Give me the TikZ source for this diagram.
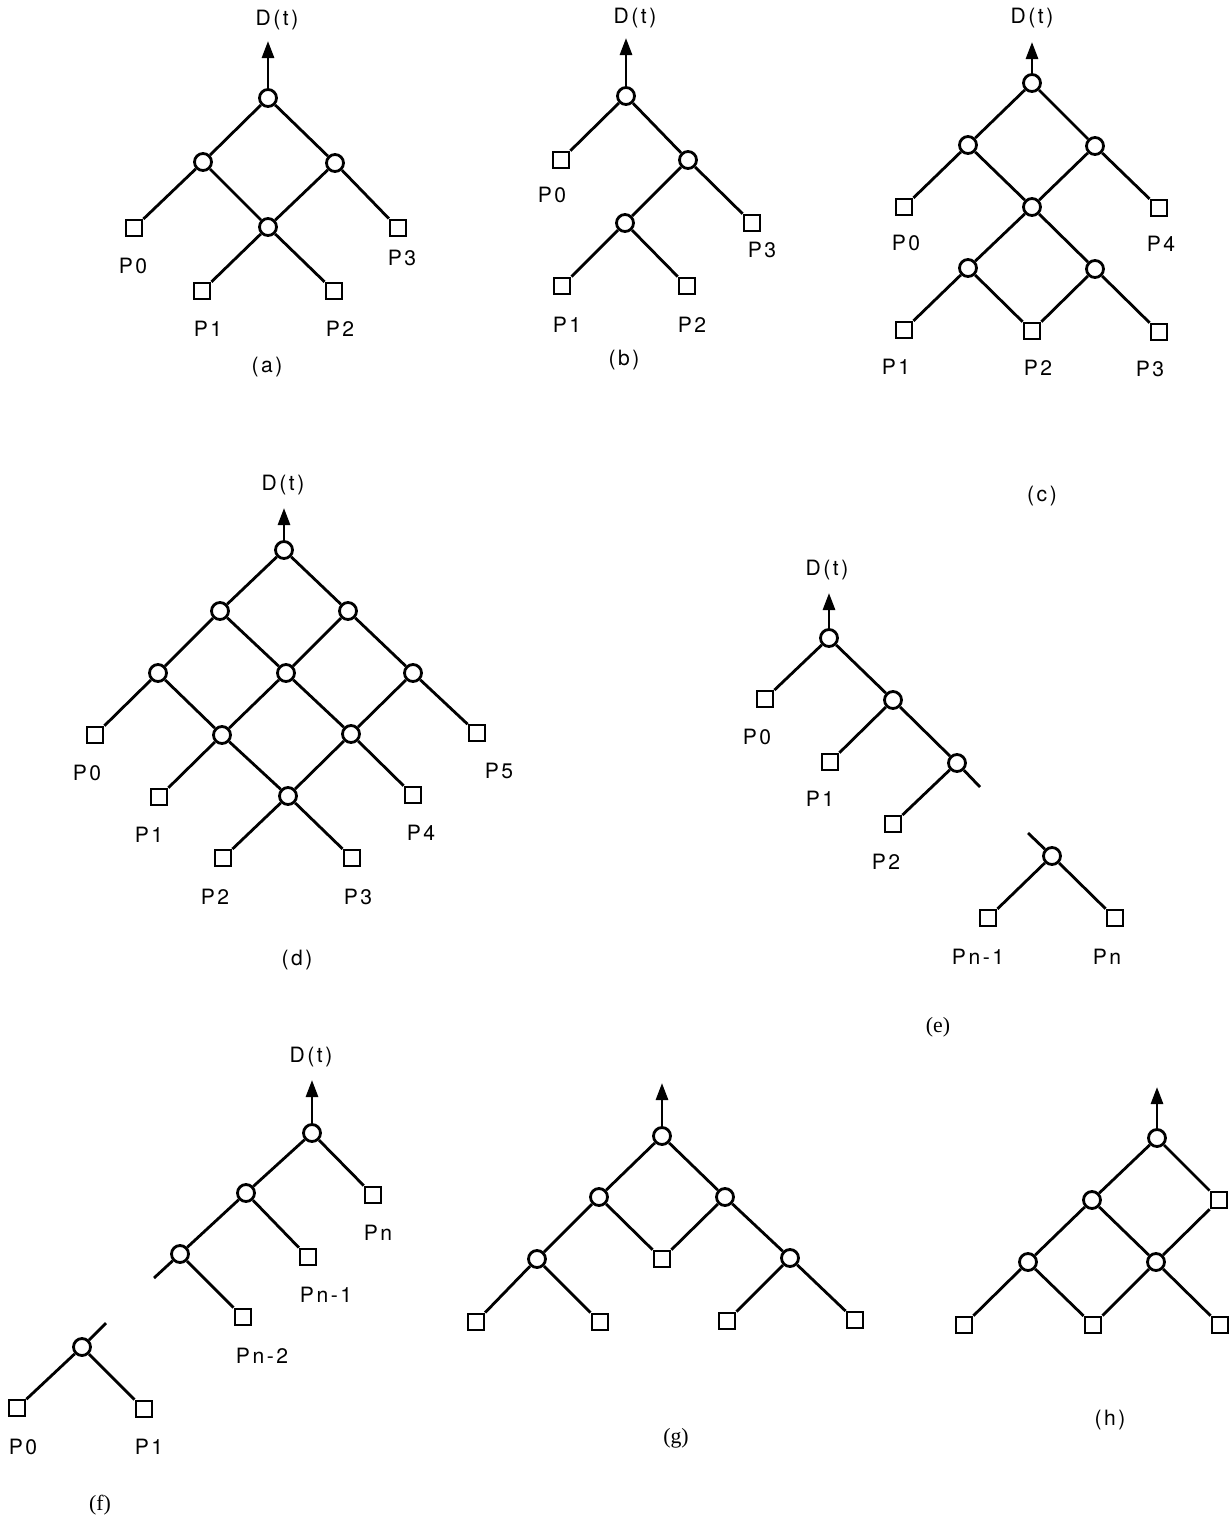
\documentclass[tikz,border=0pt]{standalone}
\usepackage{fontspec}
\setmainfont{Liberation Serif}
\setsansfont{TeX Gyre Heros}
\newfontfamily\labelfont[LetterSpace=12]{TeX Gyre Heros}
\usetikzlibrary{arrows.meta}
\tikzset{
  link/.style      = {line width=0.8pt},
  junc/.style      = {circle, draw, line width=0.8pt, fill=white,
                      inner sep=0pt, minimum size=1.7mm},
  leaf/.style      = {rectangle, draw, line width=0.8pt, fill=white,
                      inner sep=0pt, minimum size=1.6mm},
  outarrow/.style  = {-{Triangle[length=1.7mm,width=1.2mm]}, line width=0.8pt},
  plabel/.style    = {font=\labelfont\fontsize{6}{7}\selectfont, inner sep=0pt},
  caption/.style   = {font=\labelfont\fontsize{6}{7}\selectfont, inner sep=0pt},
  rmcaption/.style = {font=\rmfamily\fontsize{6.2}{7}\selectfont, inner sep=0pt},
}

\begin{document}
\begin{tikzpicture}[x=0.1mm,y=-0.1mm]
  \useasboundingbox (0,0) rectangle (1232,1525);

  % (a)
  \node[junc] (aR) at (268,98) {};
  \node[junc] (aA) at (203,162) {};
  \node[junc] (aB) at (335,163) {};
  \node[junc] (aC) at (268,227) {};
  \node[leaf] (aP0) at (134,228) {};
  \node[leaf] (aP3) at (398,228) {};
  \node[leaf] (aP1) at (202,291) {};
  \node[leaf] (aP2) at (334,291) {};
  \coordinate (aT) at (268,41);
  \node[plabel] (aD) at (277,20) {D(t)};
  \node[plabel] (aL0) at (133,266) {P0};
  \node[plabel] (aL3) at (402,258) {P3};
  \node[plabel] (aL1) at (208,329) {P1};
  \node[plabel] (aL2) at (340,329) {P2};
  \node[caption] (acap) at (267,367) {(a)};
  \draw[outarrow] (aR) -- (aT);
  \draw[link] (aR) -- (aA) (aR) -- (aB) (aA) -- (aP0) (aA) -- (aC)
              (aB) -- (aC) (aB) -- (aP3) (aC) -- (aP1) (aC) -- (aP2);

  % (b)
  \node[junc] (bR) at (626,96) {};
  \node[junc] (bA) at (688,160) {};
  \node[junc] (bB) at (625,223) {};
  \node[leaf] (bP0) at (561,160) {};
  \node[leaf] (bP3) at (752,223) {};
  \node[leaf] (bP1) at (562,286) {};
  \node[leaf] (bP2) at (687,286) {};
  \coordinate (bT) at (626,38);
  \node[plabel] (bD) at (635,18) {D(t)};
  \node[plabel] (bL0) at (552,195) {P0};
  \node[plabel] (bL3) at (762,250) {P3};
  \node[plabel] (bL1) at (567,325) {P1};
  \node[plabel] (bL2) at (692,325) {P2};
  \node[caption] (bcap) at (624,360) {(b)};
  \draw[outarrow] (bR) -- (bT);
  \draw[link] (bR) -- (bP0) (bR) -- (bA) (bA) -- (bB) (bA) -- (bP3)
              (bB) -- (bP1) (bB) -- (bP2);

  % (c)
  \node[junc] (cR) at (1032,83) {};
  \node[junc] (cA) at (968,145) {};
  \node[junc] (cB) at (1095,146) {};
  \node[junc] (cC) at (1032,207) {};
  \node[junc] (cE) at (968,268) {};
  \node[junc] (cF) at (1095,269) {};
  \node[leaf] (cP0) at (904,207) {};
  \node[leaf] (cP4) at (1159,208) {};
  \node[leaf] (cP1) at (904,330) {};
  \node[leaf] (cP2) at (1032,331) {};
  \node[leaf] (cP3) at (1159,332) {};
  \coordinate (cT) at (1032,42);
  \node[plabel] (cD) at (1032,18) {D(t)};
  \node[plabel] (cL0) at (906,243) {P0};
  \node[plabel] (cL4) at (1161,244) {P4};
  \node[plabel] (cL1) at (896,367) {P1};
  \node[plabel] (cL2) at (1038,368) {P2};
  \node[plabel] (cL3) at (1150,369) {P3};
  \node[caption] (ccap) at (1042,496) {(c)};
  \draw[outarrow] (cR) -- (cT);
  \draw[link] (cR) -- (cA) (cR) -- (cB) (cA) -- (cP0) (cA) -- (cC)
              (cB) -- (cC) (cB) -- (cP4) (cC) -- (cE) (cC) -- (cF)
              (cE) -- (cP1) (cE) -- (cP2) (cF) -- (cP2) (cF) -- (cP3);

  % (d)
  \node[junc] (dR) at (284,550) {};
  \node[junc] (dA) at (220,611) {};
  \node[junc] (dB) at (348,611) {};
  \node[junc] (dC) at (158,673) {};
  \node[junc] (dE) at (286,673) {};
  \node[junc] (dF) at (413,673) {};
  \node[junc] (dG) at (222,735) {};
  \node[junc] (dH) at (351,734) {};
  \node[junc] (dK) at (288,796) {};
  \node[leaf] (dP0) at (95,735) {};
  \node[leaf] (dP5) at (477,733) {};
  \node[leaf] (dP1) at (159,797) {};
  \node[leaf] (dP4) at (413,795) {};
  \node[leaf] (dP2) at (223,858) {};
  \node[leaf] (dP3) at (352,858) {};
  \coordinate (dT) at (284,508);
  \node[plabel] (dD) at (283,485) {D(t)};
  \node[plabel] (dL0) at (87,773) {P0};
  \node[plabel] (dL5) at (499,771) {P5};
  \node[plabel] (dL1) at (149,835) {P1};
  \node[plabel] (dL4) at (421,833) {P4};
  \node[plabel] (dL2) at (215,897) {P2};
  \node[plabel] (dL3) at (358,897) {P3};
  \node[caption] (dcap) at (297,960) {(d)};
  \draw[outarrow] (dR) -- (dT);
  \draw[link] (dR) -- (dA) (dR) -- (dB) (dA) -- (dC) (dA) -- (dE)
              (dB) -- (dE) (dB) -- (dF) (dC) -- (dP0) (dC) -- (dG)
              (dE) -- (dG) (dE) -- (dH) (dF) -- (dH) (dF) -- (dP5)
              (dG) -- (dP1) (dG) -- (dK) (dH) -- (dK) (dH) -- (dP4)
              (dK) -- (dP2) (dK) -- (dP3);

  % (e)
  \node[junc] (eR) at (829,638) {};
  \node[junc] (eA) at (893,700) {};
  \node[junc] (eB) at (957,763) {};
  \node[junc] (eC) at (1052,856) {};
  \node[leaf] (eP0) at (765,699) {};
  \node[leaf] (eP1) at (830,762) {};
  \node[leaf] (eP2) at (893,824) {};
  \node[leaf] (ePm) at (988,918) {};
  \node[leaf] (ePn) at (1115,918) {};
  \coordinate (eT) at (829,593);
  \coordinate (eS1) at (980,787);
  \coordinate (eS2) at (1028,833);
  \node[plabel] (eD) at (827,570) {D(t)};
  \node[plabel] (eL0) at (757,737) {P0};
  \node[plabel] (eL1) at (820,799) {P1};
  \node[plabel] (eL2) at (886,862) {P2};
  \node[plabel] (eLm) at (978,957) {Pn-1};
  \node[plabel] (eLn) at (1107,957) {Pn};
  \node[rmcaption] (ecap) at (938,1027) {(e)};
  \draw[outarrow] (eR) -- (eT);
  \draw[link] (eR) -- (eP0) (eR) -- (eA) (eA) -- (eP1) (eA) -- (eB)
              (eB) -- (eP2) (eB) -- (eS1) (eS2) -- (eC)
              (eC) -- (ePm) (eC) -- (ePn);

  % (f)
  \node[junc] (fR) at (312,1133) {};
  \node[junc] (fA) at (246,1193) {};
  \node[junc] (fB) at (180,1254) {};
  \node[junc] (fC) at (82,1347) {};
  \node[leaf] (fPn) at (373,1195) {};
  \node[leaf] (fPm) at (308,1257) {};
  \node[leaf] (fPk) at (243,1317) {};
  \node[leaf] (fP0) at (17,1408) {};
  \node[leaf] (fP1) at (144,1409) {};
  \coordinate (fT) at (312,1080);
  \coordinate (fS1) at (154,1278);
  \coordinate (fS2) at (106,1323);
  \node[plabel] (fD) at (311,1057) {D(t)};
  \node[plabel] (fLn) at (378,1233) {Pn};
  \node[plabel] (fLm) at (326,1295) {Pn-1};
  \node[plabel] (fLk) at (262,1356) {Pn-2};
  \node[plabel] (fL0) at (23,1447) {P0};
  \node[plabel] (fL1) at (149,1447) {P1};
  \node[rmcaption] (fcap) at (100,1505) {(f)};
  \draw[outarrow] (fR) -- (fT);
  \draw[link] (fR) -- (fA) (fR) -- (fPn) (fA) -- (fB) (fA) -- (fPm)
              (fB) -- (fPk) (fB) -- (fS1) (fS2) -- (fC)
              (fC) -- (fP0) (fC) -- (fP1);

  % (g)
  \node[junc] (gR) at (662,1136) {};
  \node[junc] (gA) at (599,1197) {};
  \node[junc] (gB) at (725,1197) {};
  \node[junc] (gC) at (537,1259) {};
  \node[junc] (gE) at (790,1258) {};
  \node[leaf] (gM) at (662,1259) {};
  \node[leaf] (gP0) at (476,1322) {};
  \node[leaf] (gP1) at (600,1322) {};
  \node[leaf] (gP2) at (727,1321) {};
  \node[leaf] (gP3) at (855,1320) {};
  \coordinate (gT) at (662,1083);
  \node[rmcaption] (gcap) at (676,1438) {(g)};
  \draw[outarrow] (gR) -- (gT);
  \draw[link] (gR) -- (gA) (gR) -- (gB) (gA) -- (gC) (gA) -- (gM)
              (gB) -- (gM) (gB) -- (gE) (gC) -- (gP0) (gC) -- (gP1)
              (gE) -- (gP2) (gE) -- (gP3);

  % (h)
  \node[junc] (hR) at (1157,1138) {};
  \node[junc] (hA) at (1092,1200) {};
  \node[junc] (hC) at (1028,1262) {};
  \node[junc] (hE) at (1156,1262) {};
  \node[leaf] (hM) at (1219,1200) {};
  \node[leaf] (hP0) at (964,1325) {};
  \node[leaf] (hP1) at (1093,1325) {};
  \node[leaf] (hP2) at (1220,1325) {};
  \coordinate (hT) at (1157,1087);
  \node[caption] (hcap) at (1110,1420) {(h)};
  \draw[outarrow] (hR) -- (hT);
  \draw[link] (hR) -- (hA) (hR) -- (hM) (hA) -- (hC) (hA) -- (hE)
              (hM) -- (hE) (hC) -- (hP0) (hC) -- (hP1)
              (hE) -- (hP1) (hE) -- (hP2);
\end{tikzpicture}
\end{document}
